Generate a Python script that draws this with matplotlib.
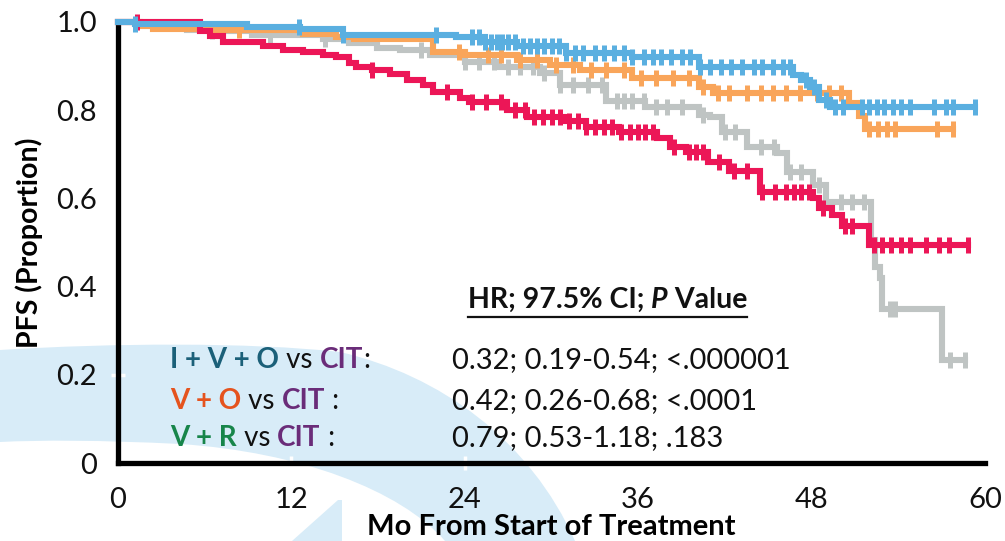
import numpy as np
import matplotlib
matplotlib.use("Agg")
import matplotlib.pyplot as plt
from matplotlib.patches import PathPatch, Polygon
from matplotlib.path import Path

plt.rcParams['font.family'] = ['Lato', 'DejaVu Sans']

# ---------------- data ----------------
ivo_t = [0, 1.2, 8.9, 12.6, 15.6, 23.4, 25.4, 27.6, 31.0, 35.6, 40.2, 46.7, 47.3, 47.9, 48.5, 49.3]
ivo_s = [1.0, 0.995, 0.989, 0.983, 0.970, 0.965, 0.955, 0.945, 0.930, 0.920, 0.898, 0.880, 0.868, 0.853, 0.823, 0.808]
ivo_c = [1.2, 12.5, 15.6, 22.0, 24.5, 25.0, 25.4, 25.8, 26.2, 26.6, 27.0, 27.5, 28.0, 28.5, 29.0, 29.5,
         30.0, 30.5, 31.0, 31.6, 32.2, 33.0, 33.6, 34.3, 35.0, 35.6, 36.4, 37.0, 37.6, 38.3, 39.0, 39.6,
         40.3, 41.0, 41.7, 42.4, 43.2, 44.0, 44.6, 45.3, 46.0, 46.5, 47.6, 48.2, 49.0, 49.6, 50.2, 51.5,
         52.0, 52.5, 53.0, 53.6, 54.2, 54.8, 56.5, 57.3, 57.8, 59.3]

vo_t = [0, 1.5, 2.4, 6.8, 12.8, 15.1, 16.3, 21.8, 24.0, 27.6, 29.9, 32.0, 35.6, 40.2, 41.2, 50.6, 51.3, 51.7]
vo_s = [1.0, 0.991, 0.985, 0.982, 0.973, 0.965, 0.961, 0.933, 0.925, 0.914, 0.902, 0.891, 0.872, 0.853, 0.840, 0.816, 0.787, 0.757]
vo_c = [8.4, 23.6, 25.6, 26.5, 27.8, 29.0, 30.3, 31.5, 32.7, 33.8, 35.0, 36.2, 37.2, 38.4, 39.5, 40.5,
        41.5, 42.3, 43.5, 44.5, 45.3, 46.2, 47.2, 48.4, 49.2, 50.0, 52.0, 52.6, 53.2, 53.8, 56.7, 57.8]

cit_t = [0, 1.3, 4.8, 6.4, 9.3, 14.2, 16.0, 17.9, 19.5, 21.6, 24.0, 26.4, 29.2, 30.6, 33.8, 36.5, 40.2, 41.0,
         41.8, 43.5, 45.6, 46.3, 48.1, 49.0, 52.1, 52.4, 52.7, 52.9, 57.0]
cit_s = [1.0, 0.993, 0.981, 0.979, 0.970, 0.961, 0.952, 0.941, 0.937, 0.925, 0.910, 0.899, 0.884, 0.858, 0.820,
         0.807, 0.789, 0.785, 0.750, 0.717, 0.703, 0.660, 0.630, 0.592, 0.506, 0.445, 0.420, 0.350, 0.233]
cit_c = [6.5, 10.5, 14.3, 21.0, 24.0, 25.0, 26.0, 27.0, 27.8, 28.7, 29.5, 30.6, 31.5, 32.5, 33.5, 34.5, 35.0,
         35.6, 36.4, 37.2, 38.0, 39.0, 40.5, 42.0, 42.7, 44.5, 45.4, 46.5, 47.3, 48.5, 50.0, 50.8, 51.6,
         53.4, 53.8, 57.6, 58.6]

vr_t = [0, 5.7, 6.4, 7.3, 10.0, 11.4, 12.8, 14.2, 15.1, 16.0, 16.5, 17.6, 18.8, 20.0, 21.1, 21.8, 23.7, 24.3,
        26.9, 28.3, 31.0, 32.4, 34.7, 37.3, 38.2, 39.3, 40.8, 42.3, 44.4, 48.1, 48.5, 49.4, 50.1, 52.0]
vr_s = [1.0, 0.979, 0.968, 0.955, 0.946, 0.937, 0.931, 0.925, 0.921, 0.907, 0.898, 0.891, 0.882, 0.868, 0.857,
        0.842, 0.828, 0.819, 0.800, 0.785, 0.776, 0.762, 0.751, 0.737, 0.717, 0.706, 0.683, 0.662, 0.615,
        0.600, 0.578, 0.562, 0.537, 0.494]
vr_c = [1.3, 17.6, 22.8, 24.5, 25.5, 26.5, 27.5, 28.2, 28.8, 29.4, 30.0, 30.6, 31.2, 31.8, 32.4, 33.0, 33.6,
        34.2, 34.8, 35.4, 36.0, 36.5, 37.0, 38.5, 39.5, 40.0, 40.5, 41.6, 42.6, 43.5, 44.6, 45.5, 46.2, 46.8,
        47.3, 47.8, 48.8, 50.3, 50.8, 52.3, 52.9, 53.5, 54.2, 54.8, 55.9, 56.8, 57.5, 58.8]

x_ticks = [0, 12, 24, 36, 48, 60]
y_ticks = [0, 0.2, 0.4, 0.6, 0.8, 1.0]
y_ticklabels = ['0', '0.2', '0.4', '0.6', '0.8', '1.0']

rows = [
    [('I + V + O', '#1b6079', 'bold'), (' vs ', '#111111', 'normal'), ('CIT', '#6a2c79', 'bold'), (':', '#111111', 'normal')],
    [('V + O', '#e5531e', 'bold'), (' vs ', '#111111', 'normal'), ('CIT', '#6a2c79', 'bold'), (' :', '#111111', 'normal')],
    [('V + R', '#17854a', 'bold'), (' vs ', '#111111', 'normal'), ('CIT', '#6a2c79', 'bold'), (' :', '#111111', 'normal')],
]
hr_values = ['0.32; 0.19-0.54; <.000001', '0.42; 0.26-0.68; <.0001', '0.79; 0.53-1.18; .183']

# ---------------- figure ----------------
W, H = 1005, 541
fig = plt.figure(figsize=(W / 100, H / 100), dpi=100)

def fx(px):
    return px / W

def fy(py):
    return 1 - py / H

# background watermark (decoration), drawn in a pixel-space background axes
bg = fig.add_axes([0, 0, 1, 1], zorder=-10)
bg.set_xlim(0, W)
bg.set_ylim(H, 0)
bg.axis('off')
wm = '#d8ecf8'
verts = [(0, 350),
         (110, 343), (250, 342), (340, 352),
         (440, 375), (530, 440), (575, 541),
         (445, 541),
         (400, 490), (300, 452), (180, 444),
         (100, 440), (40, 440), (0, 442),
         (0, 350)]
codes = [Path.MOVETO,
         Path.CURVE4, Path.CURVE4, Path.CURVE4,
         Path.CURVE4, Path.CURVE4, Path.CURVE4,
         Path.LINETO,
         Path.CURVE4, Path.CURVE4, Path.CURVE4,
         Path.CURVE4, Path.CURVE4, Path.CURVE4,
         Path.CLOSEPOLY]
bg.add_patch(PathPatch(Path(verts, codes), facecolor=wm, edgecolor='none'))
bg.add_patch(Polygon([[338, 500], [342, 500], [342, 541], [292, 541]], closed=True,
                     facecolor=wm, edgecolor='none'))

ax = fig.add_axes([fx(118), fy(463), fx(985) - fx(118), fy(22) - fy(463)], zorder=1)
ax.patch.set_alpha(0)

def surv_at(t_arr, s_arr, tc):
    idx = np.searchsorted(np.asarray(t_arr), np.asarray(tc), side='right') - 1
    return np.asarray(s_arr)[idx]

series = [
    (cit_t, cit_s, cit_c, 57.0, '#bfc4c3', 3),
    (vo_t, vo_s, vo_c, 57.8, '#f9a55a', 4),
    (vr_t, vr_s, vr_c, 58.8, '#ec1657', 5),
    (ivo_t, ivo_s, ivo_c, 59.3, '#5aafe0', 6),
]
for t, s, c, tend, col, z in series:
    tt = list(t) + [max(tend, max(c))]
    ss = list(s) + [s[-1]]
    ax.step(tt, ss, where='post', color=col, lw=4.4, zorder=z, solid_joinstyle='miter', clip_on=False)
    ax.plot(c, surv_at(t, s, c), linestyle='none', marker='|', markersize=11.5,
            markeredgewidth=3.6, color=col, zorder=z, clip_on=False)

ax.set_xlim(0, 60)
ax.set_ylim(0, 1.0)
for side in ['top', 'right']:
    ax.spines[side].set_visible(False)
for side in ['left', 'bottom']:
    ax.spines[side].set_linewidth(3.8)
    ax.spines[side].set_color('black')
    ax.spines[side].set_capstyle('projecting')

ax.set_xticks(x_ticks)
ax.set_xticklabels([str(v) for v in x_ticks])
ax.set_yticks(y_ticks)
ax.set_yticklabels(y_ticklabels)
ax.tick_params(axis='x', direction='inout', length=10, width=2.5, color='white', pad=12,
               labelsize=21, labelcolor='#111111')
ax.tick_params(axis='y', direction='inout', length=10, width=2.5, color='white', pad=10,
               labelsize=21, labelcolor='#111111')
ax.set_xlabel('Mo From Start of Treatment', fontsize=21, fontweight='bold', labelpad=1)
ax.set_ylabel('PFS (Proportion)', fontsize=20.5, fontweight='bold', labelpad=10)

fig.canvas.draw()
renderer = fig.canvas.get_renderer()

def seq_text(x_px, y_px, parts, size):
    x = x_px
    for txt, col, wt, *rest in parts:
        style = rest[0] if rest else 'normal'
        t = fig.text(fx(x), fy(y_px), txt, color=col, fontweight=wt, fontstyle=style,
                     fontsize=size, va='center', ha='left')
        bb = t.get_window_extent(renderer)
        x += bb.width
    return x

# header
x_end = seq_text(468, 300, [('HR; 97.5% CI; ', '#111111', 'bold'), ('P', '#111111', 'bold', 'italic'),
                            (' Value', '#111111', 'bold')], 20.5)
fig.add_artist(plt.Line2D([fx(468), fx(x_end)], [fy(317), fy(317)], color='#111111', lw=1.6))

row_y = [360, 401, 438]
for ry, parts, val in zip(row_y, rows, hr_values):
    seq_text(170, ry, parts, 20)
    fig.text(fx(452), fy(ry), val, fontsize=21, color='#111111', va='center', ha='left')

fig.savefig('out.png', dpi=100)
